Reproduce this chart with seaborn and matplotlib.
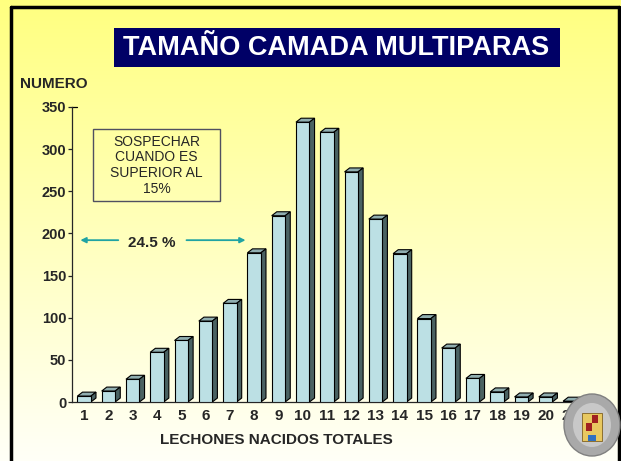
import matplotlib
matplotlib.use("Agg")
import matplotlib.pyplot as plt
import seaborn as sns
import numpy as np
import pandas as pd
from matplotlib.patches import Polygon, Rectangle, Ellipse

# data
litter_size = [str(i) for i in range(1, 22)]
counts = [7, 13, 27, 59, 73, 96, 117, 177, 221, 332, 320, 273, 217, 176, 99, 64, 28, 12, 6, 6, 1]

sns.set_style("ticks")
plt.rcParams['font.family'] = ['Liberation Sans', 'DejaVu Sans']

fig = plt.figure(figsize=(6.21, 4.61), dpi=100)

# background gradient yellow -> cream
bg = fig.add_axes([0, 0, 1, 1], zorder=-10)
t = np.linspace(0, 1, 256)[:, None]
top = np.array([1.0, 1.0, 0.50])
bot = np.array([1.0, 1.0, 0.97])
grad = top[None, None, :] * (1 - t[..., None]) + bot[None, None, :] * t[..., None]
grad = np.repeat(grad, 2, axis=1)
bg.imshow(grad, extent=[0, 1, 0, 1], aspect='auto')
bg.set_axis_off()

# slide frame
W, H = 621, 461
def fx(px): return px / W
def fy(py): return 1 - py / H
fig.add_artist(plt.Line2D([fx(11), fx(11)], [0, fy(7)], color='black', lw=2.5))
fig.add_artist(plt.Line2D([fx(11), fx(619)], [fy(7), fy(7)], color='black', lw=2.5))
fig.add_artist(plt.Line2D([fx(619), fx(619)], [0, fy(7)], color='black', lw=2.5))

# title box
fig.add_artist(Rectangle((fx(114), fy(67)), fx(560) - fx(114), fy(28) - fy(67),
                         facecolor='#000066', edgecolor='none'))
fig.text(fx(336), fy(48), 'TAMAÑO CAMADA MULTIPARAS', color='white', fontsize=19.5,
         fontweight='bold', ha='center', va='center')

ax = fig.add_axes([fx(72), fy(402), fx(582) - fx(72), fy(107) - fy(402)])
ax.patch.set_alpha(0)

df = pd.DataFrame({'lechones': litter_size, 'numero': counts})
front = '#BCE0E4'
side = '#4A6262'
topc = '#90AEB0'
sns.barplot(data=df, x='lechones', y='numero', color=front, saturation=1,
            edgecolor='black', linewidth=0.8, width=0.555, ax=ax, zorder=3)

dx, dy = 0.21, 4.7
for p in list(ax.patches):
    x0 = p.get_x()
    x1 = x0 + p.get_width()
    h = p.get_height()
    ax.add_patch(Polygon([(x0, h), (x0 + dx, h + dy), (x1 + dx, h + dy), (x1, h)],
                         closed=True, facecolor=topc, edgecolor='black', lw=0.8, zorder=2))
    ax.add_patch(Polygon([(x1, 0), (x1, h), (x1 + dx, h + dy), (x1 + dx, dy)],
                         closed=True, facecolor=side, edgecolor='black', lw=0.8, zorder=2))

ax.set_xlim(-0.5, 20.5)
ax.set_ylim(0, 350)
ax.set_yticks(range(0, 351, 50))
ax.set_xlabel('')
ax.set_ylabel('')
sns.despine(ax=ax)
ax.spines['left'].set_linewidth(0.9)
ax.spines['bottom'].set_linewidth(0.9)
ax.tick_params(axis='y', length=3, width=0.9, pad=1, labelsize=10.5)
ax.tick_params(axis='x', length=0, pad=5, labelsize=11)
for lab in ax.get_xticklabels() + ax.get_yticklabels():
    lab.set_fontweight('bold')
ax.plot([-0.5, -0.5 + dx], [350, 350], color='black', lw=0.9, clip_on=False)

fig.text(fx(20), fy(84), 'NUMERO', fontsize=11, fontweight='bold', ha='left', va='center')
fig.text(fx(276), fy(440), 'LECHONES NACIDOS TOTALES', fontsize=11, fontweight='bold',
         ha='center', va='center')

# annotation box
ax.add_patch(Rectangle((0.364, 238.6), 5.59 - 0.364, 324 - 238.6, facecolor='none',
                       edgecolor='#505060', lw=1, zorder=4))
ax.text(2.98, 281, 'SOSPECHAR\nCUANDO ES\nSUPERIOR AL\n15%', fontsize=10,
        ha='center', va='center', linespacing=1.15, zorder=5)

# 24.5 % arrows
teal = '#1FA3A3'
ax.annotate('', xy=(-0.27, 192), xytext=(1.52, 192),
            arrowprops=dict(arrowstyle='-|>', color=teal, lw=1.3, mutation_scale=8))
ax.annotate('', xy=(6.76, 192), xytext=(4.1, 192),
            arrowprops=dict(arrowstyle='-|>', color=teal, lw=1.3, mutation_scale=8))
ax.text(2.78, 189, '24.5 %', fontsize=11, fontweight='bold', ha='center', va='center')

# crest (rough stand-in for the logo)
cx, cy = 592, 425
fig.add_artist(Ellipse((fx(cx), fy(cy)), fx(56), 62 / H, facecolor='#A9A9A9',
                       edgecolor='#808080', lw=1, zorder=20))
fig.add_artist(Ellipse((fx(cx), fy(cy)), fx(38), 44 / H, facecolor='#C8C8C8',
                       edgecolor='none', zorder=21))
fig.add_artist(Rectangle((fx(cx - 10), fy(cy + 16)), fx(20), 28 / H, facecolor='#E8C860',
                         edgecolor='#806020', lw=0.6, zorder=22))
fig.add_artist(Rectangle((fx(cx - 6), fy(cy + 6)), fx(6), 8 / H, facecolor='#A02020',
                         edgecolor='none', zorder=23))
fig.add_artist(Rectangle((fx(cx), fy(cy - 2)), fx(6), 8 / H, facecolor='#A02020',
                         edgecolor='none', zorder=23))
fig.add_artist(Rectangle((fx(cx - 4), fy(cy + 16)), fx(8), 6 / H, facecolor='#3070C0',
                         edgecolor='none', zorder=23))

fig.savefig('out.png', dpi=100)
